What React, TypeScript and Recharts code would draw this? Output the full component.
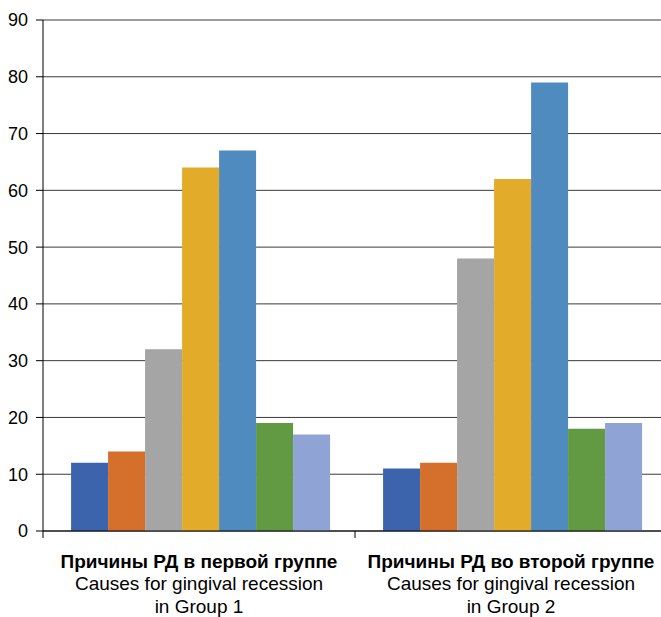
import React from "react";
import { BarChart, Bar, XAxis, YAxis, CartesianGrid } from "recharts";

const categories = ["group1", "group2"];
const titlesRu = ["Причины РД в первой группе", "Причины РД во второй группе"];
const titlesEn = ["Causes for gingival recession", "Causes for gingival recession"];
const titlesGroup = ["in Group 1", "in Group 2"];

const s1 = [12, 11];
const s2 = [14, 12];
const s3 = [32, 48];
const s4 = [64, 62];
const s5 = [67, 79];
const s6 = [19, 18];
const s7 = [17, 19];

const seriesValues = [s1, s2, s3, s4, s5, s6, s7];
const seriesColors = ["#3c64ad", "#d4702c", "#a5a5a5", "#e2ab2a", "#4f8bbf", "#629a43", "#8fa3d5"];
const yTicks = [0, 10, 20, 30, 40, 50, 60, 70, 80, 90];

const data = categories.map((c, i) => {
  const row: any = { name: c };
  seriesValues.forEach((s, k) => {
    row["s" + k] = s[i];
  });
  return row;
});

const FONT = "'Liberation Sans', Arial, sans-serif";

const CatTick = (props: any) => {
  const { x, y, payload } = props;
  const i = payload.index;
  const half = typeof payload.offset === "number" ? payload.offset : 0;
  return (
    <g>
      <line x1={x - half} x2={x - half} y1={y} y2={y + 7} stroke="#000" />
      {i === categories.length - 1 ? (
        <line x1={x + half} x2={x + half} y1={y} y2={y + 7} stroke="#000" />
      ) : null}
      <text x={x} y={y + 37} textAnchor="middle" fontFamily={FONT} fontSize={19} fontWeight="bold" fill="#000">
        {titlesRu[i]}
      </text>
      <text x={x} y={y + 59} textAnchor="middle" fontFamily={FONT} fontSize={19} fill="#000">
        {titlesEn[i]}
      </text>
      <text x={x} y={y + 82} textAnchor="middle" fontFamily={FONT} fontSize={19} fill="#000">
        {titlesGroup[i]}
      </text>
    </g>
  );
};

export default function App() {
  return (
    <div style={{ position: "absolute", left: 0, top: 0, width: 661, height: 617, overflow: "hidden", background: "#fff" }}>
      <BarChart
        width={667}
        height={617}
        data={data}
        margin={{ top: 20, right: 0, bottom: 0, left: 0 }}
        barCategoryGap="9%"
        barGap={0}
      >
        <CartesianGrid vertical={false} stroke="#3a3a3a" strokeWidth={1} />
        <XAxis
          dataKey="name"
          tickSize={0}
          tickMargin={0}
          tickLine={false}
          axisLine={{ stroke: "#000" }}
          tick={<CatTick />}
          height={86}
          interval={0}
        />
        <YAxis
          width={43}
          domain={[0, 90]}
          ticks={yTicks}
          tickSize={7}
          tickMargin={8}
          tickLine={{ stroke: "#000" }}
          axisLine={{ stroke: "#000" }}
          tick={{ fontFamily: FONT, fontSize: 18, fill: "#000" }}
          interval={0}
        />
        {seriesValues.map((_, k) => (
          <Bar key={k} dataKey={"s" + k} fill={seriesColors[k]} isAnimationActive={false} />
        ))}
      </BarChart>
    </div>
  );
}
